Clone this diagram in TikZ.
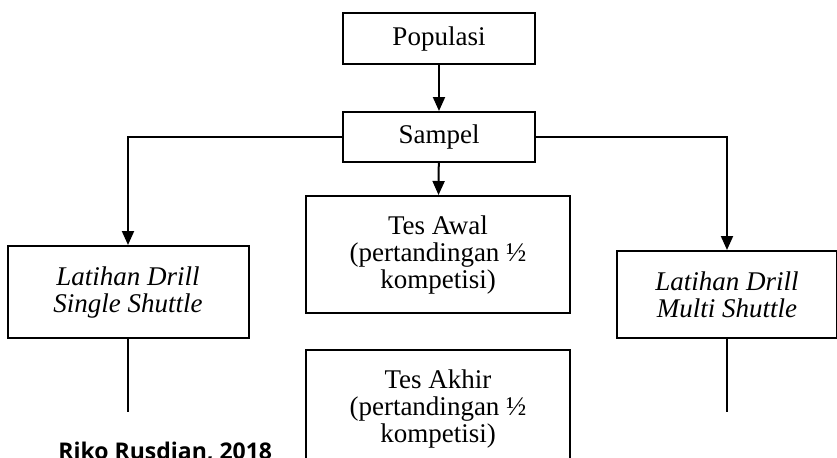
\documentclass[tikz,border=0pt]{standalone}
\usepackage{fontspec}
\setmainfont{Liberation Serif}
\newfontfamily\notefont{Open Sans}
\usetikzlibrary{positioning,arrows.meta}

\begin{document}
\begin{tikzpicture}[x=0.5pt, y=-0.5pt,
  every node/.style={font=\fontsize{13.5}{13.5}\selectfont},
  box/.style={draw, line width=1pt, align=center, inner sep=0pt},
  arr/.style={-{Triangle[length=7pt,width=6pt]}, line width=1pt},
  ln/.style={line width=0.8pt}]
\useasboundingbox (0,0) rectangle (837,457);
\clip (0,0) rectangle (837,457);

\node[box, minimum width=96pt, minimum height=25.5pt] (pop) at (439,38.5) {Populasi};
\node[box, minimum width=96pt, minimum height=25pt] (sampel) at (439,137) {Sampel};
\node[box, minimum width=132pt, minimum height=58.5pt] (awal) at (438,254.5) {Tes Awal\\(pertandingan ½\\kompetisi)};
\node[box, minimum width=132pt, minimum height=58.5pt] (akhir) at (438,408.5) {Tes Akhir\\(pertandingan ½\\kompetisi)};
\node[box, minimum width=120.5pt, minimum height=46pt] (single) at (128,292) {\textit{Latihan Drill}\\\textit{Single Shuttle}};
\node[box, minimum width=110pt, minimum height=43.5pt] (multi) at (727,294.5) {\textit{Latihan Drill}\\\textit{Multi Shuttle}};
\node[anchor=base west, inner sep=0pt, font=\notefont\bfseries\fontsize{11.5}{12}\selectfont] (src) at (58,459) {Riko Rusdian, 2018};

\coordinate (singleend) at (128,412);
\coordinate (multiend) at (727,412);

\draw[arr] (pop) -- (sampel);
\draw[arr] (sampel) -- (awal);
\draw[arr] (sampel.west) -| (single.north);
\draw[arr] (sampel.east) -| (multi.north);
\draw[ln] (single.south) -- (singleend);
\draw[ln] (multi.south) -- (multiend);
\end{tikzpicture}
\end{document}
